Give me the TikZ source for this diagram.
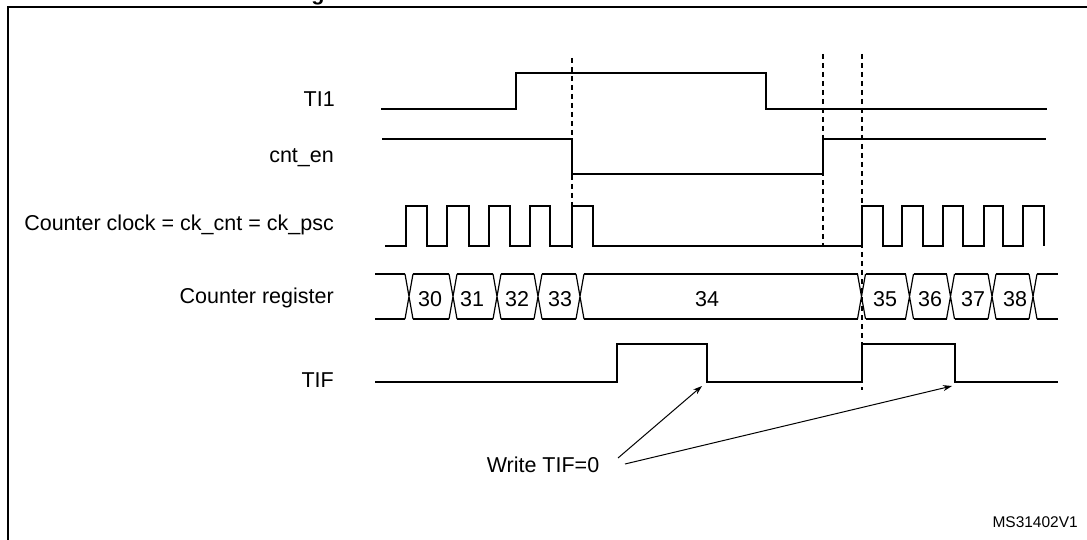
\documentclass[tikz,border=0pt]{standalone}
\usepackage{fontspec}
\setmainfont{Liberation Sans}
\usetikzlibrary{arrows.meta}
\begin{document}
\begin{tikzpicture}[x=1pt,y=-1pt,
  sig/.style={line width=1.2pt, line join=miter},
  vline/.style={line width=1.3pt, dash pattern=on 5pt off 4pt},
  lbl/.style={font=\fontsize{21.5}{25}\selectfont, inner sep=0pt, anchor=base east},
  num/.style={font=\fontsize{21.5}{25}\selectfont, inner sep=0pt, anchor=base},
  arr/.style={line width=1pt, -{Stealth[length=9pt,width=6pt]}}]
\useasboundingbox (0,0) rectangle (1087,540);
\begin{scope}
\clip (0,0) rectangle (1087,540);
\draw[line width=2pt] (8,7) rectangle (1100,560);
\node[font=\bfseries\fontsize{21.5}{25}\selectfont, inner sep=0pt, anchor=base] (title) at (318,0.5) {g};
\end{scope}
% labels
\node[lbl] (lti) at (335,107) {TI1};
\node[lbl] (lcnt) at (334,163) {cnt\_en};
\node[lbl] (lclk) at (334,231) {Counter clock = ck\_cnt = ck\_psc};
\node[lbl] (lreg) at (334,303) {Counter register};
\node[lbl] (ltif) at (334,387) {TIF};
% TI1
\draw[sig] (381,109) -- (516,109) -- (516,73) -- (766,73) -- (766,109) -- (1047,109);
% cnt_en
\draw[sig] (382,139) -- (572,139) -- (572,174) -- (823,174) -- (823,139) -- (1046,139);
% clock
\draw[sig] (385,246) -- (406,246) -- (406,206) -- (427,206) -- (427,246) -- (447,246) -- (447,206) -- (469,206) -- (469,246) -- (489,246) -- (489,206) -- (510,206) -- (510,246) -- (530,246) -- (530,206) -- (550,206) -- (550,246) -- (572,246) -- (572,206) -- (593,206) -- (593,246) -- (862,246) -- (862,206) -- (883,206) -- (883,246) -- (902,246) -- (902,206) -- (923,206) -- (923,246) -- (943,246) -- (943,206) -- (963,206) -- (963,246) -- (984,246) -- (984,206) -- (1003,206) -- (1003,246) -- (1023,246) -- (1023,206) -- (1044,206) -- (1044,246);
% counter register bus
\foreach \c in {409,453,497,538,580,861.5,909.5,950.5,992,1033}
  \draw[sig] (\c-4,274) -- (\c+4,319) (\c-4,319) -- (\c+4,274);
\foreach \a/\b in {375/405,413/449,457/493,501/534,542/576,584/857.5,865.5/905.5,913.5/946.5,954.5/988,996/1029,1037/1058}
  \draw[sig] (\a,274) -- (\b,274) (\a,319) -- (\b,319);
\foreach \x/\t/\n in {430/30/n30,472/31/n31,517/32/n32,560/33/n33,707/34/n34,885/35/n35,930/36/n36,973/37/n37,1015/38/n38}
  \node[num] (\n) at (\x,306) {\t};
% TIF
\draw[sig] (375,382) -- (617,382) -- (617,344) -- (707,344) -- (707,382) -- (862,382) -- (862,344) -- (955,344) -- (955,382) -- (1058,382);
% dashed markers
\draw[vline] (572,58) -- (572,248);
\draw[vline] (823,54) -- (823,247);
\draw[vline] (862,54) -- (862,390);
% write TIF=0
\node[num] (wtif) at (543,472) {Write TIF=0};
\coordinate (w1) at (618,458);
\coordinate (w2) at (625,464);
\coordinate (t1) at (702,386);
\coordinate (t2) at (952,386);
\draw[arr] (w1) -- (t1);
\draw[arr] (w2) -- (t2);
\node[font=\fontsize{15.5}{18}\selectfont, inner sep=0pt, anchor=base east] (ms) at (1078,527) {MS31402V1};
\end{tikzpicture}
\end{document}
